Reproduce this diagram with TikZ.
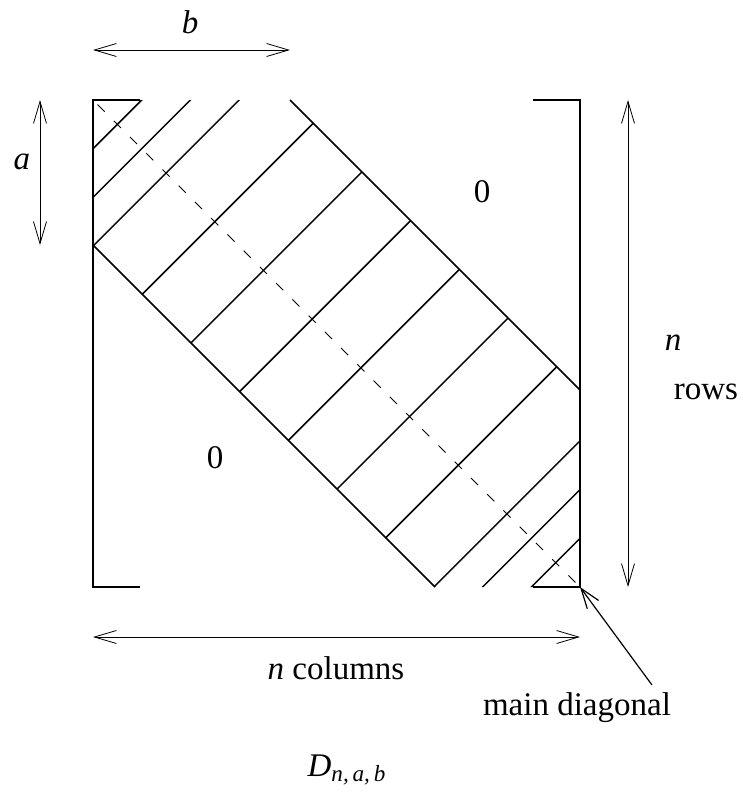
\documentclass[tikz,border=0pt]{standalone}
\usepackage{amsmath}
\usepackage{fontspec}
\setmainfont{Liberation Serif}
\usetikzlibrary{arrows.meta,positioning,calc}

\begin{document}
\begin{tikzpicture}[
  x=0.5pt, y=-0.5pt,
  lbl/.style={font=\fontsize{16.5}{19}\selectfont, inner sep=0pt},
  dim/.style={{Straight Barb[length=11pt,width=6.5pt]}-{Straight Barb[length=11pt,width=6.5pt]}, line width=0.4pt},
  ptr/.style={-{Straight Barb[length=10pt,width=7pt]}, line width=0.6pt},
  frame/.style={line width=1pt},
  hatch/.style={line width=0.75pt},
  diag/.style={line width=0.5pt, dash pattern=on 5pt off 6.48pt, dash phase=8.25pt}
]
\useasboundingbox (0,0) rectangle (743,799);

% matrix corners and band edges
\coordinate (tl) at (93,100);
\coordinate (tr) at (580,100);
\coordinate (bl) at (93,587);
\coordinate (br) at (580,587);
\coordinate (bandtop) at (290,100);
\coordinate (bandright) at (580,390);
\coordinate (bandleft) at (93,245);
\coordinate (bandbot) at (435,587);

% brackets
\draw[frame] (140,100) -- (tl) -- (bl) -- (140,587);
\draw[frame] (533,100) -- (tr) -- (br) -- (533,587);

% band
\draw[hatch] (bandtop) -- (bandright);
\draw[hatch] (bandleft) -- (bandbot);
\begin{scope}
  \clip (tl) -- (bandtop) -- (bandright) -- (br) -- (bandbot) -- (bandleft) -- cycle;
  \foreach \k in {1,2,3,5,7,9,11,13,15,17,18,19} {
    \pgfmathsetmacro\c{193+48.7*\k}
    \draw[hatch] (\c-40,40) -- (\c-640,640);
  }
\end{scope}
\draw[diag] (tl) -- (br);

% zero blocks
\node[lbl] (zup) at (482,192) {0};
\node[lbl] (zlow) at (215,458) {0};

% dimensions
\coordinate (b1) at (93,50);
\coordinate (b2) at (290,50);
\draw[dim] (b1) -- (b2);
\node[lbl] (blbl) at (190,22) {\textit{b}};

\coordinate (a1) at (40,100);
\coordinate (a2) at (40,245);
\draw[dim] (a1) -- (a2);
\node[lbl] (albl) at (22,162) {\textit{a}};

\coordinate (r1) at (628,100);
\coordinate (r2) at (628,587);
\draw[dim] (r1) -- (r2);
\node[lbl] (nlbl) at (673,343) {\textit{n}};
\node[lbl] (rowslbl) at (706,392) {rows};

\coordinate (c1) at (93,637);
\coordinate (c2) at (580,637);
\draw[dim] (c1) -- (c2);
\node[lbl] (colslbl) at (336,668) {\textit{n} columns};

% main diagonal pointer
\node[lbl] (mdlbl) at (577,708) {main diagonal};
\coordinate (mdtail) at (652,685);
\draw[ptr] (mdtail) -- (br);

\node[lbl] (title) at (347,770) {$\textit{D}_{\textit{n,\,a,\,b}}$};
\end{tikzpicture}
\end{document}
